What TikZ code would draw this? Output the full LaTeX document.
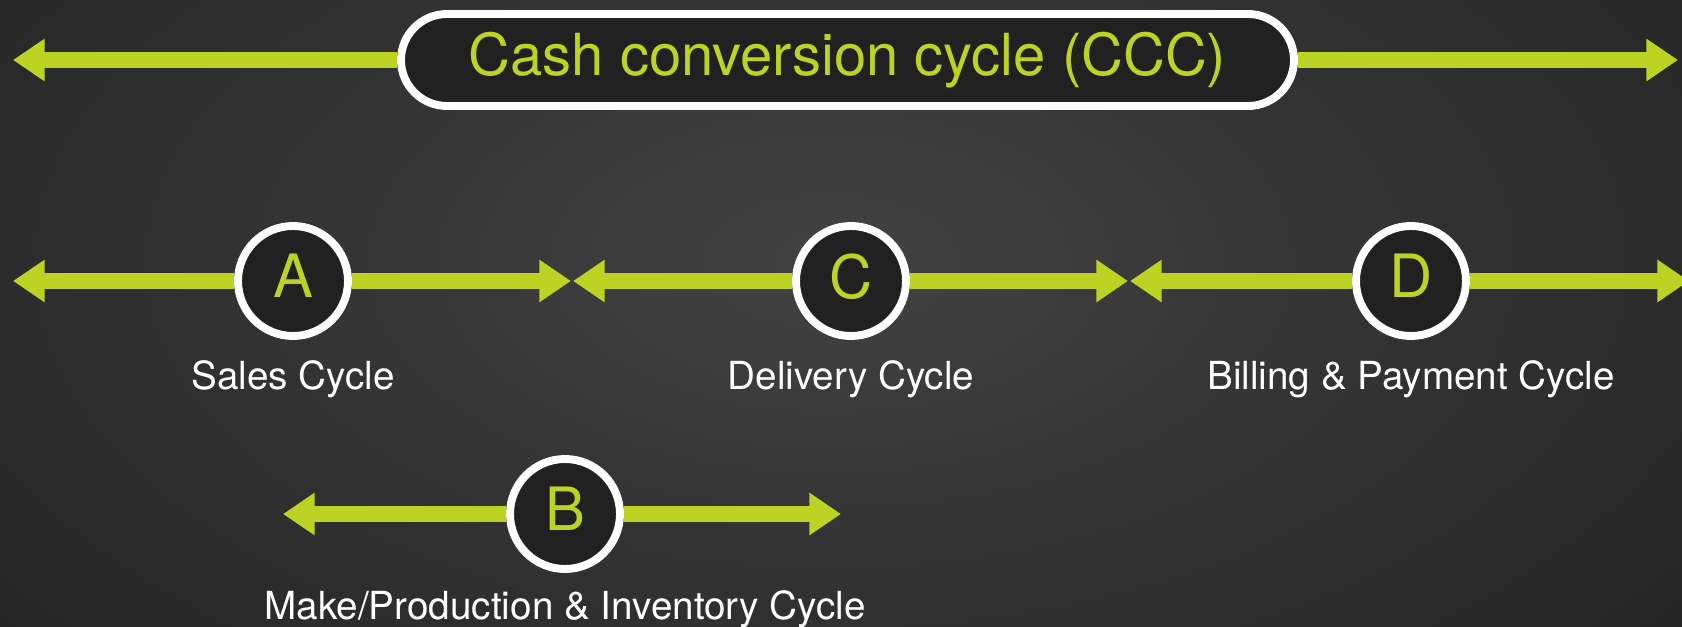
\documentclass[tikz,border=0pt]{standalone}
\usepackage{fontspec}
\setmainfont{TeX Gyre Heros}
\usetikzlibrary{arrows.meta,positioning}
\definecolor{cccgreen}{HTML}{BCD323}
\definecolor{bgdark}{HTML}{232323}
\definecolor{bglight}{HTML}{424242}
\definecolor{boxfill}{HTML}{212121}
\pgfdeclarelayer{back}
\pgfdeclarelayer{mid}
\pgfsetlayers{back,mid,main}
\tikzset{
	cycarrow/.style={line width=9pt, cccgreen, -{Triangle[width=23pt,length=18pt]}},
	letter/.style={circle, draw=white, line width=4.5pt, fill=boxfill, minimum size=2.2cm, inner sep=0pt, text depth=0.2cm, text=cccgreen, font=\fontsize{34}{34}\selectfont},
	cyclbl/.style={text=white, inner sep=0pt, font=\fontsize{22}{22}\selectfont},
	titlebox/.style={draw=white, line width=4.5pt, fill=boxfill, rounded corners=0.92cm, minimum width=17.86cm, minimum height=1.84cm, inner sep=0pt, text=cccgreen, font=\fontsize{33}{33}\selectfont}
}
\begin{document}
\begin{tikzpicture}
	\useasboundingbox (0,0) rectangle (33.64,12.52);
	\begin{pgfonlayer}{back}
		\fill[bgdark] (0,0) rectangle (33.64,12.52);
		\shade[inner color=bglight, outer color=bgdark] (-6.4,-5) rectangle (39.6,19.6);
	\end{pgfonlayer}
	\node[titlebox] (ccc) at (16.95,11.32) {Cash conversion cycle (CCC)};
	\coordinate (cccL) at (0.26,11.32);
	\coordinate (cccR) at (33.56,11.32);
	\node[letter] (A) at (5.86,6.9) {A};
	\node[letter] (C) at (17.02,6.9) {C};
	\node[letter] (D) at (28.22,6.9) {D};
	\node[letter] (B) at (11.3,2.24) {B};
	\coordinate (aL) at (0.26,6.9);
	\coordinate (aR) at (11.42,6.9);
	\coordinate (cL) at (11.46,6.9);
	\coordinate (cR) at (22.56,6.9);
	\coordinate (dL) at (22.6,6.9);
	\coordinate (dR) at (33.78,6.9);
	\coordinate (bL) at (5.66,2.24);
	\coordinate (bR) at (16.82,2.24);
	\node[cyclbl, below=1cm of A.south, anchor=base] (salesLbl) {Sales Cycle};
	\node[cyclbl, below=1cm of C.south, anchor=base] (delivLbl) {Delivery Cycle};
	\node[cyclbl, below=1cm of D.south, anchor=base] (billLbl) {Billing \& Payment Cycle};
	\node[cyclbl, below=0.94cm of B.south, anchor=base] (makeLbl) {Make/Production \& Inventory Cycle};
	\begin{pgfonlayer}{mid}
		\draw[cycarrow] (ccc) -- (cccL);
		\draw[cycarrow] (ccc) -- (cccR);
		\foreach \n/\l/\r in {A/aL/aR, C/cL/cR, D/dL/dR, B/bL/bR} {
			\draw[cycarrow] (\n) -- (\l);
			\draw[cycarrow] (\n) -- (\r);
		}
	\end{pgfonlayer}
\end{tikzpicture}
\end{document}
